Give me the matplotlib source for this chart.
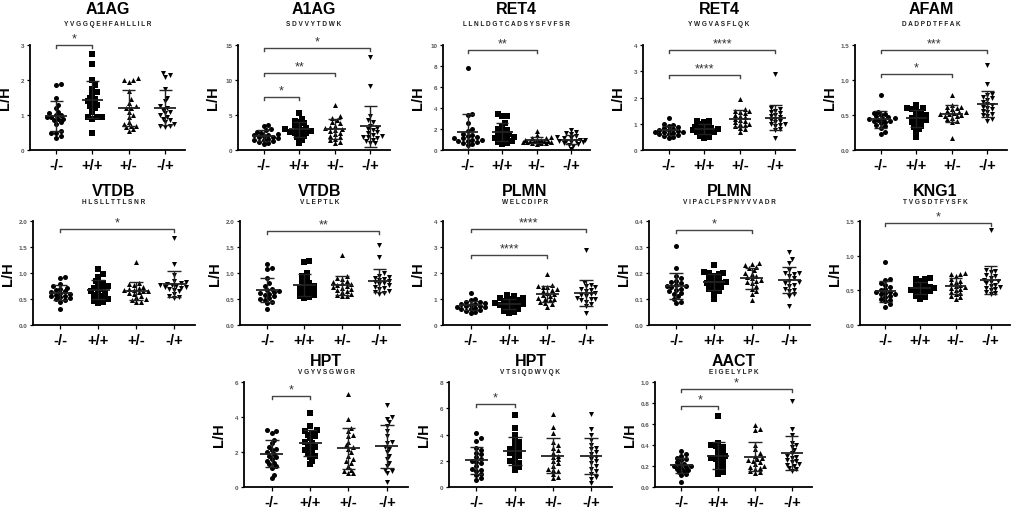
import numpy as np
import matplotlib
matplotlib.use('Agg')
import matplotlib.pyplot as plt

plt.rcParams['font.family'] = ['Liberation Sans', 'DejaVu Sans']

W, H = 1021, 510
groups = ['-/-', '+/+', '+/-', '-/+']
markers = ['o', 's', '^', 'v']

# L/H ratios per group (-/-, +/+, +/-, -/+)
a1ag_1 = [
    [1.9, 1.85, 1.5, 1.3, 1.2, 1.1, 1.05, 1.0, 1.0, 0.95, 0.95, 0.9, 0.9, 0.85, 0.8, 0.75, 0.55, 0.5, 0.5, 0.4, 0.35],
    [2.75, 2.45, 2.0, 1.85, 1.75, 1.65, 1.6, 1.5, 1.45, 1.4, 1.35, 1.3, 1.25, 1.2, 1.1, 0.95, 0.95, 0.95, 0.9, 0.5],
    [2.05, 2.0, 1.95, 2.0, 1.7, 1.45, 1.35, 1.25, 1.2, 1.2, 1.1, 1.0, 0.95, 0.8, 0.75, 0.7, 0.7, 0.65, 0.6, 0.55],
    [2.2, 2.15, 2.1, 1.75, 1.5, 1.4, 1.25, 1.2, 1.15, 1.1, 1.05, 1.0, 0.95, 0.9, 0.85, 0.8, 0.75, 0.7, 0.7, 0.65],
]
a1ag_2 = [
    [3.6, 3.5, 3.0, 2.8, 2.6, 2.5, 2.3, 2.2, 2.1, 2.0, 1.9, 1.8, 1.7, 1.6, 1.5, 1.4, 1.3, 1.2, 1.0, 0.8],
    [5.3, 4.5, 4.2, 4.0, 3.8, 3.6, 3.4, 3.2, 3.0, 2.9, 2.8, 2.7, 2.6, 2.5, 2.4, 2.3, 2.0, 1.8, 1.5, 1.0],
    [6.4, 4.8, 4.6, 4.3, 4.0, 3.8, 3.5, 3.3, 3.1, 3.0, 2.9, 2.7, 2.5, 2.3, 2.0, 1.8, 1.6, 1.4, 1.2, 1.0],
    [13.3, 9.1, 4.8, 4.3, 4.0, 3.5, 3.2, 3.0, 2.8, 2.6, 2.4, 2.2, 2.0, 1.9, 1.8, 1.7, 1.5, 1.3, 1.0, 1.0],
]
ret4_1 = [
    [7.8, 3.4, 3.3, 2.6, 2.0, 1.8, 1.5, 1.4, 1.3, 1.2, 1.1, 1.1, 1.0, 1.0, 0.9, 0.9, 0.8, 0.7, 0.6, 0.5],
    [3.4, 3.2, 3.2, 2.6, 2.3, 2.0, 1.9, 1.8, 1.6, 1.5, 1.4, 1.3, 1.2, 1.1, 1.1, 1.0, 0.9, 0.8, 0.7, 0.6],
    [1.8, 1.4, 1.2, 1.1, 1.1, 1.0, 1.0, 1.0, 0.9, 0.9, 0.9, 0.9, 0.8, 0.8, 0.8, 0.8, 0.7, 0.7, 0.7, 0.6],
    [1.9, 1.7, 1.6, 1.5, 1.3, 1.2, 1.1, 1.1, 1.0, 1.0, 0.9, 0.9, 0.9, 0.8, 0.8, 0.7, 0.6, 0.5, 0.4, 0.1],
]
ret4_2 = [
    [1.22, 1.0, 0.95, 0.9, 0.88, 0.85, 0.8, 0.78, 0.75, 0.72, 0.7, 0.7, 0.68, 0.65, 0.62, 0.6, 0.58, 0.55, 0.5, 0.45],
    [1.12, 1.1, 1.05, 1.0, 0.95, 0.9, 0.88, 0.85, 0.82, 0.8, 0.78, 0.75, 0.72, 0.7, 0.68, 0.65, 0.6, 0.55, 0.5, 0.45],
    [1.95, 1.55, 1.5, 1.5, 1.45, 1.4, 1.35, 1.3, 1.25, 1.2, 1.15, 1.1, 1.05, 1.0, 1.0, 0.95, 0.9, 0.85, 0.8, 0.7],
    [2.88, 1.6, 1.55, 1.5, 1.45, 1.4, 1.35, 1.3, 1.25, 1.2, 1.15, 1.1, 1.05, 1.0, 1.0, 0.95, 0.9, 0.8, 0.75, 0.45],
]
afam = [
    [0.78, 0.55, 0.53, 0.52, 0.5, 0.48, 0.47, 0.46, 0.45, 0.44, 0.43, 0.42, 0.41, 0.4, 0.38, 0.36, 0.34, 0.32, 0.26, 0.23],
    [0.65, 0.6, 0.6, 0.59, 0.58, 0.55, 0.52, 0.5, 0.48, 0.46, 0.45, 0.43, 0.42, 0.4, 0.38, 0.35, 0.33, 0.3, 0.25, 0.19],
    [0.78, 0.65, 0.62, 0.62, 0.6, 0.58, 0.56, 0.55, 0.54, 0.53, 0.52, 0.51, 0.5, 0.49, 0.48, 0.46, 0.44, 0.42, 0.4, 0.17],
    [1.22, 0.95, 0.8, 0.78, 0.76, 0.74, 0.72, 0.68, 0.66, 0.64, 0.62, 0.6, 0.58, 0.56, 0.54, 0.52, 0.5, 0.48, 0.45, 0.42],
]
vtdb_1 = [
    [0.93, 0.9, 0.78, 0.75, 0.72, 0.7, 0.68, 0.65, 0.63, 0.62, 0.6, 0.58, 0.56, 0.55, 0.53, 0.52, 0.5, 0.48, 0.45, 0.31],
    [1.08, 0.98, 0.92, 0.85, 0.8, 0.78, 0.75, 0.72, 0.7, 0.68, 0.65, 0.62, 0.6, 0.58, 0.55, 0.52, 0.5, 0.47, 0.45, 0.43],
    [1.22, 0.8, 0.78, 0.76, 0.74, 0.72, 0.7, 0.68, 0.67, 0.66, 0.65, 0.63, 0.62, 0.6, 0.56, 0.53, 0.5, 0.48, 0.45, 0.44],
    [1.67, 1.17, 0.97, 0.85, 0.82, 0.8, 0.78, 0.77, 0.76, 0.75, 0.74, 0.73, 0.72, 0.7, 0.68, 0.65, 0.6, 0.55, 0.53, 0.52],
]
vtdb_2 = [
    [1.17, 1.1, 1.08, 0.9, 0.8, 0.75, 0.7, 0.68, 0.65, 0.63, 0.62, 0.6, 0.58, 0.55, 0.52, 0.5, 0.48, 0.45, 0.42, 0.31],
    [1.24, 1.22, 1.0, 0.95, 0.9, 0.85, 0.8, 0.78, 0.75, 0.72, 0.7, 0.68, 0.66, 0.64, 0.62, 0.6, 0.58, 0.56, 0.54, 0.52],
    [1.34, 0.94, 0.9, 0.88, 0.85, 0.82, 0.8, 0.78, 0.76, 0.75, 0.73, 0.72, 0.7, 0.68, 0.66, 0.63, 0.6, 0.58, 0.56, 0.55],
    [1.53, 1.3, 1.0, 0.95, 0.92, 0.9, 0.88, 0.86, 0.84, 0.82, 0.8, 0.78, 0.76, 0.74, 0.72, 0.7, 0.66, 0.64, 0.62, 0.6],
]
plmn_1 = [
    [1.25, 1.0, 0.95, 0.9, 0.88, 0.85, 0.82, 0.8, 0.78, 0.75, 0.72, 0.7, 0.68, 0.65, 0.62, 0.6, 0.58, 0.55, 0.5, 0.45],
    [1.15, 1.1, 1.05, 1.02, 1.0, 0.95, 0.92, 0.9, 0.85, 0.82, 0.8, 0.78, 0.75, 0.72, 0.7, 0.65, 0.6, 0.55, 0.5, 0.45],
    [1.95, 1.55, 1.5, 1.48, 1.45, 1.4, 1.35, 1.3, 1.25, 1.2, 1.15, 1.1, 1.05, 1.0, 1.0, 0.95, 0.9, 0.85, 0.8, 0.7],
    [2.9, 1.65, 1.55, 1.5, 1.45, 1.4, 1.35, 1.3, 1.25, 1.2, 1.15, 1.1, 1.05, 1.0, 1.0, 0.95, 0.9, 0.8, 0.75, 0.45],
]
plmn_2 = [
    [0.305, 0.22, 0.19, 0.18, 0.17, 0.165, 0.16, 0.155, 0.15, 0.15, 0.145, 0.14, 0.135, 0.13, 0.125, 0.12, 0.11, 0.1, 0.09, 0.085],
    [0.23, 0.205, 0.2, 0.2, 0.195, 0.19, 0.18, 0.175, 0.17, 0.165, 0.16, 0.16, 0.155, 0.15, 0.145, 0.14, 0.135, 0.13, 0.12, 0.1],
    [0.24, 0.235, 0.23, 0.225, 0.22, 0.21, 0.2, 0.195, 0.19, 0.185, 0.18, 0.175, 0.17, 0.165, 0.16, 0.15, 0.14, 0.13, 0.12, 0.095],
    [0.28, 0.255, 0.24, 0.21, 0.2, 0.2, 0.195, 0.19, 0.18, 0.17, 0.165, 0.16, 0.155, 0.15, 0.14, 0.135, 0.13, 0.12, 0.11, 0.075],
]
kng1 = [
    [0.91, 0.67, 0.65, 0.6, 0.58, 0.55, 0.52, 0.5, 0.48, 0.47, 0.46, 0.45, 0.44, 0.42, 0.4, 0.38, 0.36, 0.34, 0.3, 0.26],
    [0.68, 0.67, 0.66, 0.64, 0.6, 0.58, 0.56, 0.55, 0.54, 0.53, 0.52, 0.51, 0.5, 0.49, 0.48, 0.46, 0.44, 0.42, 0.4, 0.38],
    [0.75, 0.74, 0.73, 0.7, 0.66, 0.64, 0.62, 0.6, 0.58, 0.56, 0.55, 0.54, 0.52, 0.5, 0.48, 0.46, 0.44, 0.42, 0.4, 0.38],
    [1.37, 0.8, 0.78, 0.76, 0.72, 0.7, 0.68, 0.65, 0.63, 0.62, 0.6, 0.58, 0.56, 0.55, 0.54, 0.52, 0.5, 0.48, 0.46, 0.44],
]
hpt_1 = [
    [3.25, 3.2, 3.1, 2.7, 2.5, 2.3, 2.2, 2.1, 2.0, 1.9, 1.8, 1.7, 1.6, 1.5, 1.4, 1.3, 1.2, 1.1, 0.7, 0.5],
    [4.25, 3.5, 3.25, 3.2, 3.1, 3.0, 2.9, 2.8, 2.6, 2.5, 2.4, 2.3, 2.2, 2.1, 2.0, 1.9, 1.8, 1.7, 1.5, 1.3],
    [5.3, 3.9, 3.4, 3.2, 3.0, 2.9, 2.6, 2.4, 2.3, 2.2, 2.0, 1.8, 1.6, 1.5, 1.4, 1.2, 1.0, 0.9, 0.8, 0.8],
    [4.7, 4.0, 3.9, 3.7, 3.5, 3.2, 2.9, 2.6, 2.5, 2.3, 2.2, 2.0, 1.8, 1.6, 1.4, 1.2, 1.0, 0.9, 0.8, 0.3],
]
hpt_2 = [
    [4.1, 3.7, 3.5, 3.0, 2.8, 2.6, 2.5, 2.3, 2.1, 2.0, 1.9, 1.8, 1.6, 1.4, 1.3, 1.2, 1.0, 0.9, 0.7, 0.5],
    [5.5, 4.5, 4.0, 3.6, 3.4, 3.2, 3.0, 2.9, 2.8, 2.7, 2.6, 2.5, 2.4, 2.2, 2.0, 1.9, 1.8, 1.6, 1.5, 1.3],
    [5.6, 4.6, 4.1, 3.4, 3.2, 3.0, 2.8, 2.6, 2.4, 2.3, 2.1, 2.0, 1.8, 1.6, 1.4, 1.3, 1.2, 1.0, 0.8, 0.7],
    [5.6, 4.4, 4.0, 3.6, 3.2, 3.0, 2.9, 2.7, 2.5, 2.3, 2.1, 2.0, 1.8, 1.6, 1.4, 1.2, 1.0, 0.8, 0.6, 0.3],
]
aact = [
    [0.34, 0.31, 0.3, 0.28, 0.27, 0.26, 0.24, 0.22, 0.21, 0.2, 0.2, 0.19, 0.18, 0.17, 0.16, 0.15, 0.14, 0.12, 0.11, 0.05],
    [0.68, 0.42, 0.4, 0.39, 0.38, 0.36, 0.34, 0.32, 0.3, 0.29, 0.28, 0.27, 0.26, 0.24, 0.22, 0.2, 0.18, 0.16, 0.14, 0.12],
    [0.59, 0.55, 0.54, 0.4, 0.36, 0.32, 0.3, 0.28, 0.27, 0.26, 0.25, 0.24, 0.22, 0.2, 0.19, 0.18, 0.17, 0.15, 0.14, 0.13],
    [0.82, 0.55, 0.5, 0.42, 0.4, 0.38, 0.35, 0.32, 0.3, 0.29, 0.28, 0.26, 0.25, 0.24, 0.22, 0.21, 0.2, 0.18, 0.17, 0.15],
]

titles = ['A1AG', 'A1AG', 'RET4', 'RET4', 'AFAM', 'VTDB', 'VTDB', 'PLMN', 'PLMN', 'KNG1', 'HPT', 'HPT', 'AACT']
peptides = ['YVGGQEHFAHLLILR', 'SDVVYTDWK', 'LLNLDGTCADSYSFVFSR', 'YWGVASFLQK', 'DADPDTFFAK',
            'HLSLLTTLSNR', 'VLEPTLK', 'WELCDIPR', 'VIPACLPSPNYVVADR', 'TVGSDTFYSFK',
            'VGYVSGWGR', 'VTSIQDWVQK', 'EIGELYLPK']
datasets = [a1ag_1, a1ag_2, ret4_1, ret4_2, afam, vtdb_1, vtdb_2, plmn_1, plmn_2, kng1, hpt_1, hpt_2, aact]
ymaxes = [3, 15, 10, 4, 1.5, 2.0, 2.0, 4, 0.4, 1.5, 6, 8, 1.0]
ysteps = [1, 5, 2, 1, 0.5, 0.5, 0.5, 1, 0.1, 0.5, 2, 2, 0.2]
ydecimals = [0, 0, 0, 0, 1, 1, 1, 0, 1, 1, 0, 0, 1]
# significance brackets: (from group, to group, label, height)
brackets = [
    [(0, 1, '*', 3.0)],
    [(0, 1, '*', 7.6), (0, 2, '**', 11.0), (0, 3, '*', 14.6)],
    [(0, 2, '**', 9.5)],
    [(0, 2, '****', 2.85), (0, 3, '****', 3.8)],
    [(0, 2, '*', 1.09), (0, 3, '***', 1.43)],
    [(0, 3, '*', 1.85)],
    [(0, 3, '**', 1.8)],
    [(0, 2, '****', 2.7), (0, 3, '****', 3.7)],
    [(0, 2, '*', 0.365)],
    [(0, 3, '*', 1.47)],
    [(0, 1, '*', 5.2)],
    [(0, 1, '*', 6.3)],
    [(0, 1, '*', 0.77), (0, 3, '*', 0.93)],
]

# axes boxes in pixels: left, top, right, bottom
boxes = [
    (30, 46, 185, 151), (238, 46, 390, 151), (443, 46, 590, 151), (643, 46, 795, 151), (855, 46, 1007, 151),
    (33, 222, 195, 326), (240, 222, 400, 326), (443, 222, 607, 326), (649, 222, 810, 326), (860, 222, 1010, 326),
    (244, 383, 408, 488), (449, 383, 612, 488), (655, 383, 812, 488),
]
title_gap = {46: (36, 21), 222: (30, 19), 383: (21, 10)}

XMIN, XMAX = -0.72, 3.55


def swarm(vals, px_per_unit, px_per_group, diam=3.9, kmax=6):
    vals = np.asarray(vals)
    order = np.argsort(vals)
    placed = []
    offs = np.zeros(len(vals))
    ks = [0]
    for k in range(1, kmax + 1):
        ks += [k, -k]
    for i in order:
        y = vals[i] * px_per_unit
        best, best_d = 0.0, -1.0
        for k in ks:
            x = k * diam * 0.6
            d = min([np.hypot(x - px, y - py) for px, py in placed] or [99.0])
            if d >= diam:
                best = x
                break
            if d > best_d:
                best, best_d = x, d
        placed.append((best, y))
        offs[i] = best / px_per_group
    return offs


fig = plt.figure(figsize=(W / 100, H / 100), dpi=100)

for p in range(13):
    l, t, r, b = boxes[p]
    ax = fig.add_axes([l / W, 1 - b / H, (r - l) / W, (b - t) / H])
    ymax = ymaxes[p]
    ax.set_xlim(XMIN, XMAX)
    ax.set_ylim(0, ymax)
    px_unit = (b - t) / ymax
    px_group = (r - l) / (XMAX - XMIN)

    for g, vals in enumerate(datasets[p]):
        offs = swarm(vals, px_unit, px_group)
        ax.scatter(g + offs, vals, marker=markers[g], s=13, color='black',
                   linewidths=0, zorder=3, clip_on=False)
        m = np.mean(vals)
        sd = np.std(vals, ddof=1)
        ax.hlines(m, g - 0.3, g + 0.3, color='#222222', lw=1.3, zorder=4)
        ax.vlines(g, m - sd, m + sd, color='#222222', lw=1.0, zorder=4)
        ax.hlines([m - sd, m + sd], g - 0.18, g + 0.18, color='#222222', lw=1.0, zorder=4)

    for g0, g1, lab, yb in brackets[p]:
        tick = 3.0 / px_unit
        ax.plot([g0, g0, g1, g1], [yb - tick, yb, yb, yb - tick], color='#444444',
                lw=1.0, clip_on=False, zorder=5)
        ax.text((g0 + g1) / 2, yb + 0.5 / px_unit, lab, ha='center', va='bottom',
                fontsize=9, color='#333333', clip_on=False)

    yt = np.arange(0, ymax + ysteps[p] / 2, ysteps[p])
    ax.set_yticks(yt)
    ax.set_yticklabels([f'{v:.{ydecimals[p]}f}' for v in yt], fontsize=4.5,
                       color='#555555', fontweight='bold')
    ax.set_xticks(range(4))
    ax.set_xticklabels(groups, fontsize=10.5, fontweight='bold')
    ax.tick_params(axis='y', length=2.5, width=0.9, pad=1.5)
    ax.tick_params(axis='x', length=3, width=0.9, pad=3)
    for s in ['top', 'right']:
        ax.spines[s].set_visible(False)
    for s in ['left', 'bottom']:
        ax.spines[s].set_linewidth(1.3)
    ax.set_ylabel('L/H', fontsize=10.5, fontweight='bold')
    ax.yaxis.set_label_coords(-18 / (r - l), 0.5)

    cx = (l + r) / 2 / W
    tg, pg = title_gap[t]
    fig.text(cx, 1 - (t - tg) / H, titles[p], ha='center', va='center',
             fontsize=11.5, fontweight='bold')
    fig.text(cx, 1 - (t - pg) / H, ' '.join(peptides[p]), ha='center', va='center',
             fontsize=4.7, fontweight='bold', color='#222222')

fig.savefig('out.png', dpi=100)
